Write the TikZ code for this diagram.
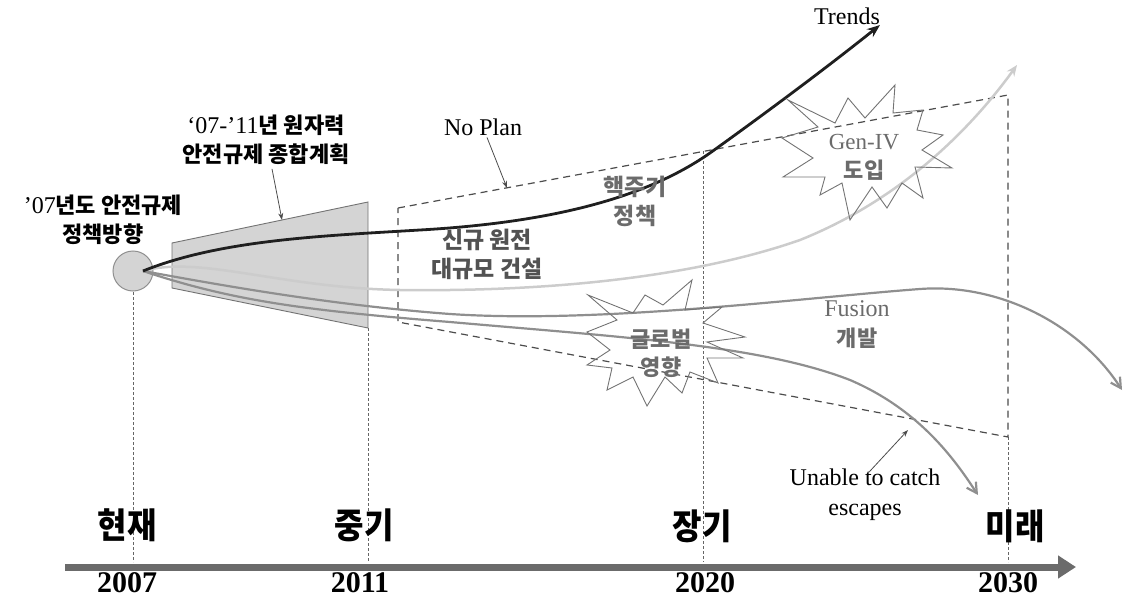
\documentclass[tikz,border=0pt]{standalone}
\usepackage{fontspec}
\usepackage{graphicx}
\setmainfont{Liberation Serif}
\newfontfamily\kr{Noto Sans CJK KR}
\usetikzlibrary{arrows.meta,calc}
\newcommand\tmr[1]{{\rmfamily\mdseries\fontsize{24}{28}\selectfont #1}}
\definecolor{trapfill}{gray}{0.83}
\definecolor{axisgray}{gray}{0.42}
\definecolor{curvegray}{gray}{0.56}
\definecolor{lightcurve}{gray}{0.80}
\definecolor{dashgray}{gray}{0.30}
\definecolor{guidegray}{gray}{0.40}
\definecolor{labelgray}{gray}{0.42}
\definecolor{stargray}{gray}{0.45}
\begin{document}
\begin{tikzpicture}[x=1pt,y=-1pt,
  every node/.style={inner sep=0pt,outer sep=0pt},
  blacklabel/.style={font=\kr\bfseries\fontsize{22}{29}\selectfont,align=center,text=black},
  graylabel/.style={font=\kr\bfseries\fontsize{23}{29}\selectfont,align=center,text=labelgray},
  latinlabel/.style={font=\fontsize{24}{30}\selectfont,align=center,text=black},
  timelabel/.style={font=\kr\bfseries\fontsize{32}{32}\selectfont,text=black},
  yearlabel/.style={font=\bfseries\fontsize{30}{30}\selectfont,text=black},
  guide/.style={guidegray,line width=0.8pt,dash pattern=on 3pt off 2pt},
  noplan/.style={dashgray,line width=1.2pt,dash pattern=on 7pt off 5pt},
  pointer/.style={-{Stealth[length=7pt,width=5pt]},line width=0.8pt,black!70},
  starline/.style={stargray,line width=0.9pt,line join=miter},
  trendcurve/.style={line width=2.8pt,black!88,-{Stealth[length=13pt,width=10pt]}},
  gencurve/.style={line width=2.5pt,lightcurve,-{Stealth[length=11pt,width=9pt]}},
  midcurve/.style={line width=2.2pt,curvegray,-{Straight Barb[length=10pt,width=11pt]}}
]
\useasboundingbox (0,0) rectangle (1129,599);

% guide lines
\draw[guide] (133,292) -- (133,562);
\draw[guide] (368,328) -- (368,562);
\draw[guide] (703,151) -- (703,562);
\draw[guide] (1008,437) -- (1008,562);

% grey funnel
\draw[fill=trapfill,draw=stargray,line width=0.9pt] (172,243) -- (368,202) -- (368,328) -- (172,288) -- cycle;

% No Plan dashed trapezoid
\draw[noplan] (398,208) -- (1008,95) -- (1008,437) -- (398,322) -- cycle;

% start circle
\node[circle,minimum size=40pt,fill=trapfill,draw=curvegray,line width=1pt] (c) at (133,271) {};

% end points
\coordinate (tr) at (880,25);
\coordinate (gv) at (1017,65);
\coordinate (fu) at (1122,390);
\coordinate (un) at (978,495);

% curves
\draw[gencurve] ([xshift=10pt]c.center) .. controls (200,255) and (280,288) .. (400,290)
   .. controls (560,292) and (700,275) .. (800,240)
   .. controls (900,200) and (970,130) .. (gv);
\draw[midcurve] ([xshift=10pt]c.center) .. controls (230,300) and (300,310) .. (450,322)
   .. controls (620,337) and (760,345) .. (850,380)
   .. controls (920,410) and (955,460) .. (un);
\draw[midcurve] ([xshift=10pt]c.center) .. controls (220,285) and (330,305) .. (450,314)
   .. controls (600,324) and (800,298) .. (920,289)
   .. controls (1000,283) and (1080,325) .. (fu);
\draw[trendcurve] ([xshift=10pt]c.center) .. controls (220,240) and (320,236) .. (420,230)
   .. controls (560,222) and (650,195) .. (710,153)
   .. controls (770,110) and (830,65) .. (tr);

% starbursts
\draw[starline] (788,100) -- (835,123) -- (848,98) -- (865,118) -- (895,85) -- (893,113)
  -- (923,110) -- (917,130) -- (943,135) -- (922,150) -- (952,168) -- (915,167)
  -- (923,198) -- (902,183) -- (887,208) -- (872,187) -- (850,220) -- (842,183)
  -- (820,195) -- (825,177) -- (783,177) -- (813,158) -- (782,138) -- (818,127) -- cycle;
\draw[starline] (588,295) -- (633,313) -- (645,295) -- (663,305) -- (692,280) -- (685,310)
  -- (722,307) -- (703,323) -- (745,337) -- (707,342) -- (743,358) -- (707,358)
  -- (718,383) -- (690,372) -- (682,393) -- (665,377) -- (647,406) -- (633,377)
  -- (607,390) -- (612,368) -- (587,365) -- (610,350) -- (587,332) -- (617,320) -- cycle;

% axis
\coordinate (ax0) at (65,567);
\coordinate (ax1) at (1076,567);
\draw[axisgray,line width=7pt,-{Triangle[length=18pt,width=22pt]}] (ax0) -- (ax1);

% labels
\node[blacklabel] (policy) at (103,220) {\tmr{’07}년도 안전규제\\정책방향};
\node[blacklabel] (plan) at (266,140) {\tmr{‘07-’11}년 원자력\\안전규제 종합계획};
\coordinate (planpt) at (282,220);
\draw[pointer] ([xshift=6pt,yshift=-4pt]plan.south) -- (planpt);

\node[latinlabel] (noplan) at (483,127) {No Plan};
\coordinate (noplanpt) at (507,188);
\draw[pointer] ([xshift=4pt,yshift=-2pt]noplan.south) -- (noplanpt);

\node[latinlabel] (trends) at (847,16) {Trends};

\node[graylabel,text=black!68] (newbuild) at (487,254) {신규 원전\\대규모 건설};
\node[graylabel] (cycle) at (635,201) {핵주기\\정책};
\node[graylabel,font=\kr\bfseries\fontsize{22}{28}\selectfont] (global) at (661,353) {글로벌\\영향};
\node[graylabel,font=\kr\bfseries\fontsize{22}{29}\selectfont] (geniv) at (864,157) {{\rmfamily\mdseries\fontsize{23}{28}\selectfont Gen-IV}\\도입};
\node[graylabel,font=\kr\bfseries\fontsize{22}{30}\selectfont] (fusion) at (857,325) {{\rmfamily\mdseries\fontsize{24}{28}\selectfont Fusion}\\개발};

\node[latinlabel] (unable) at (865,495) {Unable to catch\\escapes};
\coordinate (unablept) at (908,430);
\draw[pointer] ([xshift=4pt,yshift=-3pt]unable.north) -- (unablept);

% timeline labels
\node[timelabel] (now) at (127,525) {\scalebox{1}[1.1]{현재}};
\node[timelabel] (mid) at (364,525) {\scalebox{1}[1.1]{중기}};
\node[timelabel] (long) at (702,526) {\scalebox{1}[1.1]{장기}};
\node[timelabel] (future) at (1015,526) {\scalebox{1}[1.1]{미래}};

\node[yearlabel] (y2007) at (127,583) {2007};
\node[yearlabel] (y2011) at (360,583) {2011};
\node[yearlabel] (y2020) at (705,583) {2020};
\node[yearlabel] (y2030) at (1008,583) {2030};
\end{tikzpicture}
\end{document}
